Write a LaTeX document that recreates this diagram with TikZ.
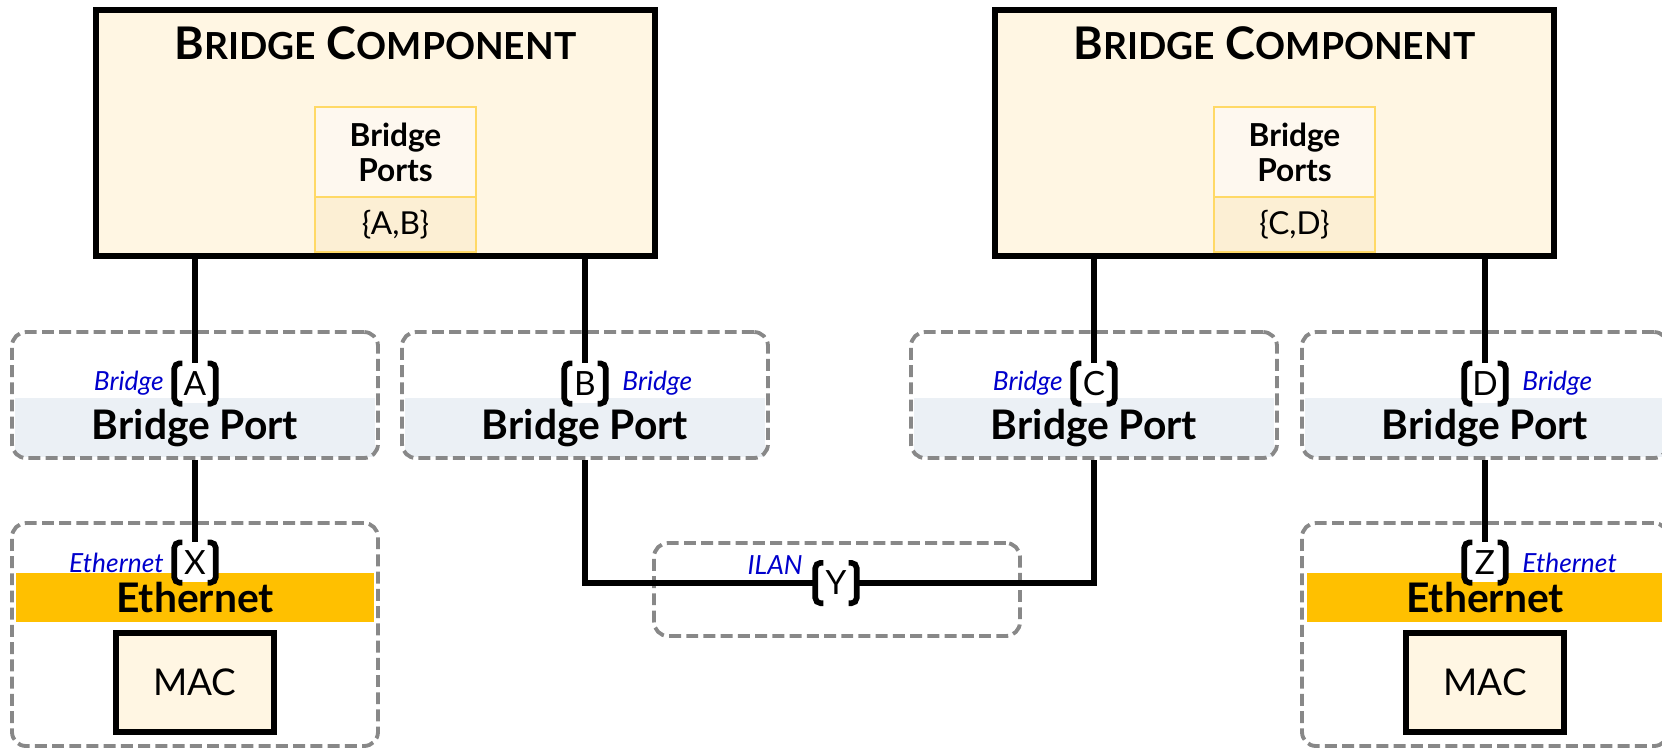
\documentclass[tikz,border=0pt]{standalone}
\usepackage{fontspec}
\setmainfont{Lato}
\usepackage{xcolor}
\usepackage{tikz}
\usetikzlibrary{positioning,calc,backgrounds}
\definecolor{crema}{HTML}{FFF6E3}
\definecolor{cremaclaro}{HTML}{FEF8EF}
\definecolor{cremaoscuro}{HTML}{FCEFD4}
\definecolor{oro}{HTML}{FFD966}
\definecolor{grisazul}{HTML}{EBF0F5}
\definecolor{naranja}{HTML}{FFC000}
\definecolor{azul}{HTML}{0000CC}
\definecolor{gris}{HTML}{888888}
\newcommand{\versal}[1]{{\fontsize{10.6}{13}\selectfont #1}}
\tikzset{
  componente/.style = {draw, line width=1.5pt, fill=crema,
                       minimum width=5.59cm, minimum height=2.46cm},
  titulo/.style     = {font=\fontsize{12.8}{15}\selectfont\bfseries, inner sep=0pt},
  puertos/.style    = {draw=oro, line width=0.7pt, fill=cremaclaro, align=center, outer sep=0pt,
                       minimum width=1.61cm, minimum height=0.9cm, font=\fontsize{9}{10}\selectfont\bfseries},
  conjunto/.style   = {draw=oro, line width=0.7pt, fill=cremaoscuro, outer sep=0pt,
                       minimum width=1.61cm, minimum height=0.55cm, font=\fontsize{9}{10}\selectfont},
  marco/.style      = {draw=gris, dash pattern=on 3.4pt off 1.5pt, line width=1.1pt,
                       rounded corners=4pt, minimum width=3.66cm},
  banda/.style      = {inner sep=0pt, minimum width=3.6cm, font=\fontsize{11.6}{13}\selectfont\bfseries},
  corchete/.style   = {fill=white, inner sep=0pt, minimum width=0.4cm, minimum height=0.39cm,
                       font=\fontsize{9.5}{11}\selectfont},
  etiqueta/.style   = {text=azul, font=\fontsize{7.5}{9}\selectfont\itshape, inner sep=0pt},
  caja/.style       = {draw, line width=1.6pt, fill=crema, minimum width=1.58cm, minimum height=0.99cm,
                       font=\fontsize{10.5}{12}\selectfont},
  enlace/.style     = {line width=1.6pt},
  trazo/.style      = {line width=1.6pt, rounded corners=1.5pt}
}

\begin{document}
\begin{tikzpicture}
    \useasboundingbox (0,0) rectangle (16.62,-7.49);
    \clip (0,0) rectangle (16.62,-7.49);

    % bridge components
    \node[componente] (bcL) at (3.755,-1.33) {};
    \node[componente] (bcR) at (12.745,-1.33) {};
    \node[titulo, anchor=base] (tituloL) at ([yshift=-0.52cm]bcL.north) {B\versal{RIDGE} C\versal{OMPONENT}};
    \node[titulo, anchor=base] (tituloR) at ([yshift=-0.52cm]bcR.north) {B\versal{RIDGE} C\versal{OMPONENT}};
    \node[puertos] (ptsL) at (3.955,-1.52) {Bridge\\Ports};
    \node[conjunto, below=0pt of ptsL] (setL) {\{A,B\}};
    \node[puertos] (ptsR) at (12.945,-1.52) {Bridge\\Ports};
    \node[conjunto, below=0pt of ptsR] (setR) {\{C,D\}};

    % bridge ports
    \node[marco, minimum height=1.26cm] (bpA) at (1.95,-3.95) {};
    \node[marco, minimum height=1.26cm] (bpB) at (5.85,-3.95) {};
    \node[marco, minimum height=1.26cm] (bpC) at (10.94,-3.95) {};
    \node[marco, minimum height=1.26cm] (bpD) at (14.85,-3.95) {};
    \begin{scope}[on background layer]
      \foreach \b in {bpA,bpB,bpC,bpD}
        \node[banda, fill=grisazul, minimum height=0.59cm, anchor=south, text depth=0.06cm] (\b-banda)
          at ([yshift=0.02cm]\b.south) {Bridge Port};
    \end{scope}

    % ethernet + ilan
    \node[marco, minimum height=2.23cm] (ethL) at (1.95,-6.345) {};
    \node[banda, fill=naranja, minimum width=3.57cm, minimum height=0.49cm] (bandaX) at (1.95,-5.975) {Ethernet};
    \node[caja] (macL) at (1.95,-6.825) {MAC};
    \node[marco, minimum height=2.23cm] (ethR) at (14.85,-6.345) {};
    \node[banda, fill=naranja, minimum width=3.57cm, minimum height=0.49cm] (bandaZ) at (14.85,-5.975) {Ethernet};
    \node[caja] (macR) at (14.85,-6.825) {MAC};
    \node[marco, minimum height=0.93cm] (ilan) at (8.37,-5.895) {};

    % interfaces
    \node[corchete] (pA) at (1.95,-3.835) {A};
    \node[corchete] (pB) at (5.85,-3.835) {B};
    \node[corchete] (pC) at (10.94,-3.835) {C};
    \node[corchete] (pD) at (14.85,-3.835) {D};
    \node[corchete] (pX) at (1.95,-5.625) {X};
    \node[corchete] (pY) at (8.36,-5.83) {Y};
    \node[corchete] (pZ) at (14.85,-5.625) {Z};
    \foreach \p in {pA,pB,pC,pD,pX,pY,pZ}{
      \draw[trazo] ([xshift=0.08cm]\p.north west) -- (\p.north west) -- (\p.south west) -- ([xshift=0.08cm]\p.south west);
      \draw[trazo] ([xshift=-0.08cm]\p.north east) -- (\p.north east) -- (\p.south east) -- ([xshift=-0.08cm]\p.south east);
    }
    \node[etiqueta, left=0.1cm of pA] (etA) {Bridge};
    \node[etiqueta, right=0.16cm of pB] (etB) {Bridge};
    \node[etiqueta, left=0.1cm of pC] (etC) {Bridge};
    \node[etiqueta, right=0.16cm of pD] (etD) {Bridge};
    \node[etiqueta, left=0.1cm of pX] (etX) {Ethernet};
    \node[etiqueta, right=0.16cm of pZ] (etZ) {Ethernet};
    \node[etiqueta, anchor=south east] (etY) at ([xshift=-0.12cm, yshift=0.08cm]pY.west) {ILAN};

    % wires
    \draw[enlace] (bcL.south -| pA.north) -- (pA.north);
    \draw[enlace] (bcL.south -| pB.north) -- (pB.north);
    \draw[enlace] (bcR.south -| pC.north) -- (pC.north);
    \draw[enlace] (bcR.south -| pD.north) -- (pD.north);
    \draw[enlace] (bpA.south) -- (pX.north);
    \draw[enlace] (bpD.south) -- (pZ.north);
    \draw[enlace] (bpB.south) |- (pY.west);
    \draw[enlace] (pY.east) -| (bpC.south);
\end{tikzpicture}
\end{document}
